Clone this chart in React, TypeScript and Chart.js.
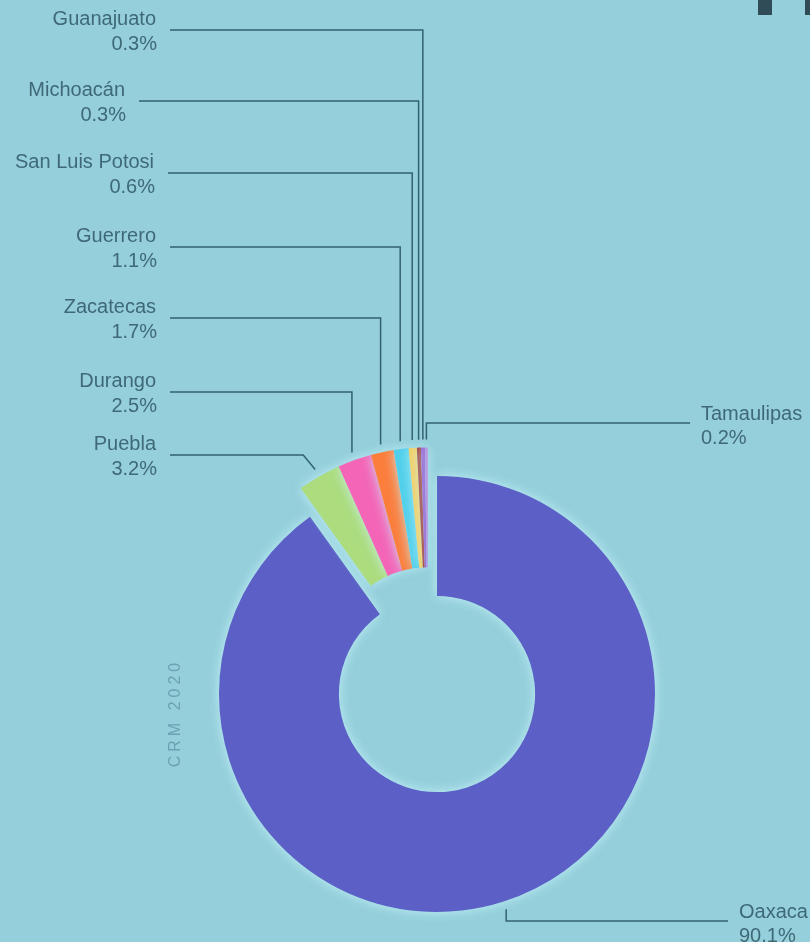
import React, { useEffect, useRef } from 'react';
import { Chart, registerables } from 'chart.js';

Chart.register(...registerables);

// ---- data ----
const states = [
  'Oaxaca',
  'Puebla',
  'Durango',
  'Zacatecas',
  'Guerrero',
  'San Luis Potosi',
  'Michoacán',
  'Guanajuato',
  'Tamaulipas',
];
const shares = [90.1, 3.2, 2.5, 1.7, 1.1, 0.6, 0.3, 0.3, 0.2];
const sliceColors = [
  '#5b5fc6',
  '#acdc7e',
  '#f465b7',
  '#fb7e3d',
  '#4fcfeb',
  '#f6cf62',
  '#a3403d',
  '#9a6ed6',
  '#b89ae2',
];
const sideTitle = 'CRM 2020';

// ---- label layout (positions only) ----
type LabelLayout = { side: 'left' | 'right'; lineY: number; edgeX: number; crook: number };
const labelLayout: LabelLayout[] = [
  { side: 'right', lineY: 921, edgeX: 728, crook: 0 },
  { side: 'left', lineY: 455, edgeX: 170, crook: -12 },
  { side: 'left', lineY: 392, edgeX: 170, crook: 0 },
  { side: 'left', lineY: 318, edgeX: 170, crook: 0 },
  { side: 'left', lineY: 247, edgeX: 170, crook: 0 },
  { side: 'left', lineY: 173, edgeX: 168, crook: 0 },
  { side: 'left', lineY: 101, edgeX: 139, crook: 0 },
  { side: 'left', lineY: 30, edgeX: 170, crook: 0 },
  { side: 'right', lineY: 423, edgeX: 690, crook: 0 },
];

const BG = '#94cfdb';
const EXPLODE = 30;
const TEXT_COLOR = '#3f6977';
const LINE_COLOR = '#33626f';
const FONT = '"Liberation Sans", Arial, sans-serif';

const explodePlugin = {
  id: 'explodeGroup',
  afterUpdate(chart: any) {
    const meta = chart.getDatasetMeta(0);
    const arcs = meta.data;
    if (!arcs || arcs.length < 2) return;
    const start = arcs[1].startAngle;
    const end = arcs[arcs.length - 1].endAngle;
    const mid = (start + end) / 2;
    const dx = Math.cos(mid) * EXPLODE;
    const dy = Math.sin(mid) * EXPLODE;
    for (let i = 1; i < arcs.length; i++) {
      arcs[i].x += dx;
      arcs[i].y += dy;
    }
  },
};

const glowPlugin = {
  id: 'glow',
  beforeDatasetsDraw(chart: any) {
    const ctx = chart.ctx;
    ctx.save();
    ctx.shadowColor = 'rgba(200, 245, 250, 0.85)';
    ctx.shadowBlur = 12;
  },
  afterDatasetsDraw(chart: any) {
    chart.ctx.restore();
  },
};

const bgPlugin = {
  id: 'bg',
  beforeDraw(chart: any) {
    const ctx = chart.ctx;
    ctx.save();
    ctx.fillStyle = BG;
    ctx.fillRect(0, 0, chart.width, chart.height);
    ctx.restore();
  },
};

const labelsPlugin = {
  id: 'leaderLabels',
  afterDraw(chart: any) {
    const ctx = chart.ctx;
    const meta = chart.getDatasetMeta(0);
    const arcs = meta.data;
    ctx.save();
    arcs.forEach((arc: any, i: number) => {
      const lay = labelLayout[i];
      if (!lay) return;
      const mid = (arc.startAngle + arc.endAngle) / 2;
      const r = arc.outerRadius + 8;
      const px = arc.x + Math.cos(mid) * r;
      const py = arc.y + Math.sin(mid) * r;
      ctx.strokeStyle = LINE_COLOR;
      ctx.lineWidth = 1.5;
      ctx.beginPath();
      ctx.moveTo(px, py);
      const bx = px + lay.crook;
      ctx.lineTo(bx, lay.lineY);
      ctx.lineTo(lay.edgeX, lay.lineY);
      ctx.stroke();

      ctx.fillStyle = TEXT_COLOR;
      ctx.font = `20px ${FONT}`;
      ctx.textBaseline = 'middle';
      const pct = shares[i].toFixed(1) + '%';
      if (lay.side === 'left') {
        ctx.textAlign = 'right';
        ctx.fillText(states[i], lay.edgeX - 14, lay.lineY - 11);
        ctx.fillText(pct, lay.edgeX - 13, lay.lineY + 14);
      } else {
        ctx.textAlign = 'left';
        ctx.fillText(states[i], lay.edgeX + 11, lay.lineY - 9);
        ctx.fillText(pct, lay.edgeX + 11, lay.lineY + 15);
      }
    });

    // rotated side title
    ctx.save();
    ctx.translate(176, 713);
    ctx.rotate(-Math.PI / 2);
    ctx.fillStyle = '#6ca2b2';
    ctx.font = `16px ${FONT}`;
    (ctx as any).letterSpacing = '4px';
    ctx.textAlign = 'center';
    ctx.textBaseline = 'middle';
    ctx.fillText(sideTitle, 0, 0);
    ctx.restore();

    // cropped logo fragment top-right
    ctx.fillStyle = '#2f4c57';
    ctx.fillRect(758, 0, 14, 15);
    ctx.fillRect(805, 0, 5, 15);
    ctx.restore();
  },
};

export default function App() {
  const canvasRef = useRef<HTMLCanvasElement | null>(null);

  useEffect(() => {
    if (!canvasRef.current) return;
    const chart = new Chart(canvasRef.current, {
      type: 'doughnut',
      data: {
        labels: states,
        datasets: [
          {
            data: shares,
            backgroundColor: sliceColors,
            borderWidth: 0,
            hoverOffset: 0,
          },
        ],
      },
      options: {
        responsive: false,
        animation: false,
        events: [],
        cutout: '45%',
        rotation: 0,
        circumference: 360,
        layout: { padding: { left: 219, right: 155, top: 476, bottom: 30 } },
        plugins: {
          legend: { display: false },
          tooltip: { enabled: false },
        },
      },
      plugins: [bgPlugin, explodePlugin, glowPlugin, labelsPlugin],
    } as any);
    return () => chart.destroy();
  }, []);

  return (
    <div style={{ position: 'absolute', left: 0, top: 0, width: 810, height: 942, background: BG, overflow: 'hidden' }}>
      <canvas ref={canvasRef} width={810} height={942} style={{ display: 'block', width: 810, height: 942 }} />
    </div>
  );
}
